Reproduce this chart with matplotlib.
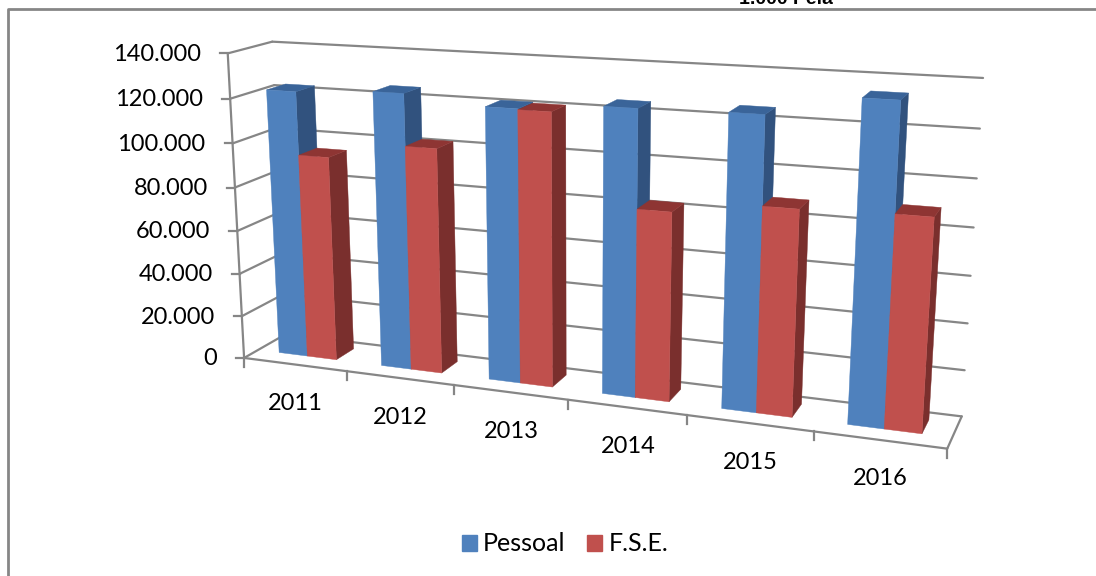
import matplotlib
matplotlib.use("Agg")
import matplotlib.pyplot as plt
from matplotlib.patches import Polygon, Patch
import numpy as np

years = ["2011", "2012", "2013", "2014", "2015", "2016"]
pessoal = [122500, 124700, 121200, 124500, 125200, 134000]
fse = [94000, 101600, 120800, 82400, 88000, 89200]
y_ticks = [0, 20000, 40000, 60000, 80000, 100000, 120000, 140000]
y_labels = ["0", "20.000", "40.000", "60.000", "80.000", "100.000", "120.000", "140.000"]

BLUE = ("#4f81bd", "#3a6499", "#31527e")
RED = ("#c0504d", "#8e3533", "#7a2f2d")
GRID = "#868686"
FONT = "Lato"

# box corners (category, value, depth) -> pixel, used to fit the camera
corners = [
    ((0, 0, 0), (245, 358)),
    ((6, 0, 0), (947, 449)),
    ((6, 0, 1), (962, 416)),
    ((0, 0, 1), (285, 334)),
    ((0, 140000, 0), (227, 53)),
    ((0, 140000, 1), (273, 42)),
    ((6, 140000, 1), (983, 78)),
]


def fit_camera(pairs):
    rows = []
    for (u, v, d), (px, py) in pairs:
        p = [u, v / 140000, d, 1]
        rows.append(p + [0, 0, 0, 0] + [-px * c for c in p])
        rows.append([0, 0, 0, 0] + p + [-py * c for c in p])
    vt = np.linalg.svd(np.array(rows, dtype=float))[2]
    return vt[-1].reshape(3, 4)


cam = fit_camera(corners)


def project(u, v, d):
    x, y, w = cam @ np.array([u, v / 140000, d, 1.0])
    return x / w, y / w


def line(ax, a, b, lw=1.6):
    pa, pb = project(*a), project(*b)
    ax.plot([pa[0], pb[0]], [pa[1], pb[1]], color=GRID, lw=lw, solid_capstyle="round", zorder=1)


def bar(ax, u0, u1, val, colors):
    d0, d1 = 0.33, 0.77
    front = [(u0, 0, d0), (u1, 0, d0), (u1, val, d0), (u0, val, d0)]
    top = [(u0, val, d0), (u1, val, d0), (u1, val, d1), (u0, val, d1)]
    side = [(u1, 0, d0), (u1, 0, d1), (u1, val, d1), (u1, val, d0)]
    for pts, c in ((side, colors[2]), (top, colors[1]), (front, colors[0])):
        ax.add_patch(Polygon([project(*p) for p in pts], closed=True, facecolor=c,
                             edgecolor=c, lw=0.3, zorder=2))


fig = plt.figure(figsize=(10.96, 5.76), dpi=100)
ax = fig.add_axes([0, 0, 1, 1])
ax.set_xlim(0, 1096)
ax.set_ylim(576, 0)
ax.axis("off")

# chart frame, runs off the page on the right and at the bottom
ax.plot([1096, 8, 8], [9, 9, 576], color=GRID, lw=2, zorder=1)
ax.text(786, 4, "1.000 Pela", fontsize=14, family="Liberation Sans", weight="bold",
        ha="center", va="baseline", color="black")

# walls and floor
for val, lab in zip(y_ticks, y_labels):
    line(ax, (0, val, 0), (0, val, 1))
    line(ax, (0, val, 1), (6, val, 1))
    px, py = project(0, val, 0)
    ax.plot([px - 8, px], [py, py], color=GRID, lw=1.6, zorder=1)
    ax.text(px - 27, py + 1, lab, fontsize=17, family=FONT, ha="right", va="center", color="black")
line(ax, (0, 0, 0), (0, 140000, 0))
line(ax, (0, 0, 0), (6, 0, 0))
line(ax, (6, 0, 0), (6, 0, 1))

for i in range(7):
    px, py = project(i, 0, 0)
    ax.plot([px, px], [py, py + 9], color=GRID, lw=1.6, zorder=1)

for i, year in enumerate(years):
    bar(ax, i + 0.21, i + 0.49, pessoal[i], BLUE)
    bar(ax, i + 0.49, i + 0.775, fse[i], RED)
    px, py = project(i + 0.5, 0, 0)
    ax.text(px + 1, py + 39, year, fontsize=17, family=FONT, ha="center", va="center", color="black")

handles = [Patch(color=BLUE[0], label="Pessoal"), Patch(color=RED[0], label="F.S.E.")]
ax.legend(handles=handles, loc="center", bbox_to_anchor=(0.5155, 0.0556), ncol=2, frameon=False,
          prop={"family": FONT, "size": 18}, handlelength=0.6, handleheight=0.6,
          handletextpad=0.24, columnspacing=0.88)

fig.savefig("out.png", dpi=100)
